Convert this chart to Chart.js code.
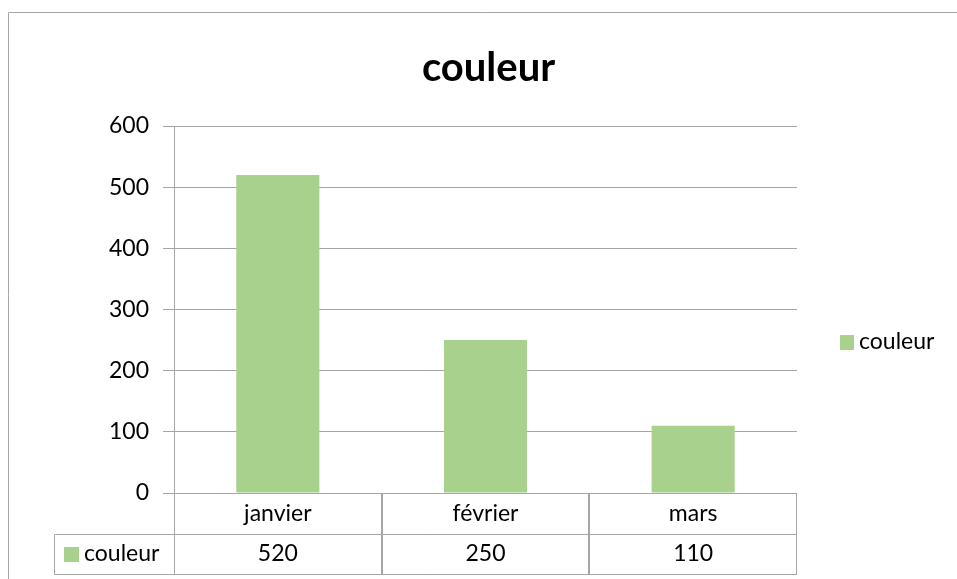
<!DOCTYPE html>
<html>
<head>
<meta charset="utf-8">
<style>
  html, body { margin: 0; padding: 0; background: #fff; }
  #wrap { width: 957px; height: 579px; }
</style>
</head>
<body>
<div id="wrap"><canvas id="couleurChart" width="957" height="579"></canvas></div>

<script src="https://cdn.jsdelivr.net/npm/chart.js"></script>
<script>
// Données du graphique
const mois = ['janvier', 'février', 'mars'];
const couleur = [520, 250, 110];
const serieNom = 'couleur';
const titre = 'couleur';

const VERT = '#A9D18E';
const GRIS = '#A6A6A6';
const POLICE = 'Lato, "Open Sans", sans-serif';

// Plugin : bordure, titre, légende et tableau de données (style Excel)
const excelDeco = {
  id: 'excelDeco',
  afterDraw(chart) {
    const ctx = chart.ctx;
    const x = chart.scales.x;
    const y = chart.scales.y;
    const area = chart.chartArea;
    ctx.save();

    // bordure extérieure
    ctx.strokeStyle = GRIS;
    ctx.lineWidth = 1;
    ctx.beginPath();
    ctx.moveTo(8.5, 579);
    ctx.lineTo(8.5, 12.5);
    ctx.lineTo(957, 12.5);
    ctx.stroke();

    // titre
    ctx.fillStyle = '#000';
    ctx.font = 'bold 40px ' + POLICE;
    ctx.textAlign = 'center';
    ctx.textBaseline = 'alphabetic';
    ctx.fillText(titre, (area.left + area.right) / 2 + 3, 81);

    // légende
    ctx.textBaseline = 'middle';
    ctx.fillStyle = VERT;
    ctx.fillRect(840, 335, 14, 15);
    ctx.fillStyle = '#000';
    ctx.font = '23px ' + POLICE;
    ctx.textAlign = 'left';
    ctx.fillText(serieNom, 859, 342);

    // tableau de données
    const top = y.getPixelForValue(0);
    const rowH = 40.5;
    const half = (x.getPixelForValue(1) - x.getPixelForValue(0)) / 2;
    const labelLeft = 54.5;
    const r1 = Math.round(top + rowH) + 0.5;
    const r2 = Math.round(top + 2 * rowH) + 0.5;
    ctx.strokeStyle = GRIS;
    ctx.beginPath();
    ctx.moveTo(labelLeft, r1);
    ctx.lineTo(area.right, r1);
    ctx.moveTo(labelLeft, r2);
    ctx.lineTo(area.right, r2);
    ctx.moveTo(labelLeft, r1);
    ctx.lineTo(labelLeft, r2);
    mois.forEach((m, i) => {
      const c = x.getPixelForValue(i);
      const xs = [Math.round(c - half) + 0.5, Math.round(c + half) - 0.5];
      xs.forEach(px => {
        ctx.moveTo(px, top);
        ctx.lineTo(px, r2);
      });
    });
    ctx.stroke();

    ctx.fillStyle = '#000';
    ctx.font = '23px ' + POLICE;
    ctx.textAlign = 'center';
    mois.forEach((m, i) => {
      const c = x.getPixelForValue(i);
      ctx.fillText(m, c, top + rowH / 2);
      ctx.fillText(String(couleur[i]), c, top + rowH * 1.5);
    });
    ctx.fillStyle = VERT;
    ctx.fillRect(64, 547, 15, 15);
    ctx.fillStyle = '#000';
    ctx.textAlign = 'left';
    ctx.fillText(serieNom, 84, top + rowH * 1.5);

    ctx.restore();
  }
};

const ctx = document.getElementById('couleurChart').getContext('2d');
new Chart(ctx, {
  type: 'bar',
  data: {
    labels: mois,
    datasets: [{
      label: serieNom,
      data: couleur,
      backgroundColor: VERT,
      borderWidth: 0,
      categoryPercentage: 1,
      barPercentage: 0.4
    }]
  },
  options: {
    responsive: false,
    animation: false,
    layout: { padding: { left: 0, top: 126, right: 160, bottom: 86 } },
    plugins: {
      legend: { display: false },
      title: { display: false },
      tooltip: { enabled: false }
    },
    scales: {
      x: { display: false },
      y: {
        min: 0,
        max: 600,
        ticks: {
          stepSize: 100,
          color: '#000',
          padding: 14,
          font: { family: POLICE, size: 23 }
        },
        grid: { color: GRIS, tickLength: 11 },
        border: { color: GRIS },
        afterFit(scale) { scale.width = 174; }
      }
    }
  },
  plugins: [excelDeco]
});
</script>
</body>
</html>
